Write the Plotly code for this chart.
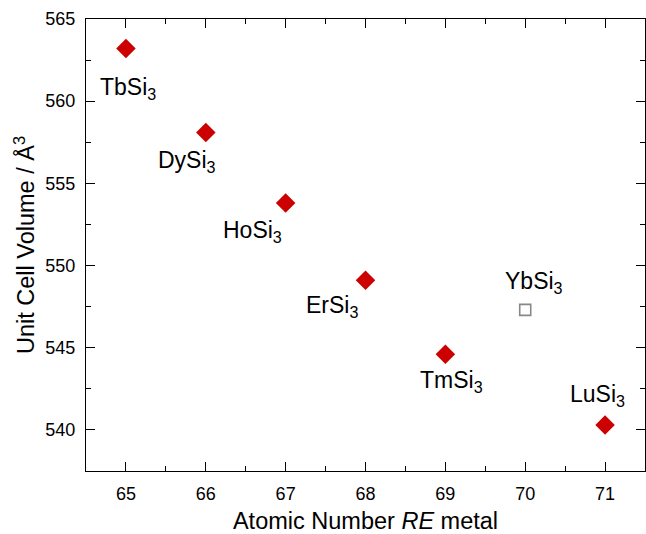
import plotly.graph_objects as go

# Data
atomic_number = [65, 66, 67, 68, 69, 71]
cell_volume = [563.2, 558.1, 553.8, 549.1, 544.6, 540.3]
yb_atomic_number = [70]
yb_cell_volume = [547.3]

label_text = ["TbSi<sub>3</sub>", "DySi<sub>3</sub>", "HoSi<sub>3</sub>", "ErSi<sub>3</sub>",
              "TmSi<sub>3</sub>", "YbSi<sub>3</sub>", "LuSi<sub>3</sub>"]
label_x = [65.02, 65.76, 66.58, 67.58, 69.08, 70.11, 70.9]
label_y = [560.75, 556.36, 552.1, 547.48, 542.92, 548.94, 542.1]

x_ticks = [65, 66, 67, 68, 69, 70, 71]
y_ticks = [540, 545, 550, 555, 560, 565]

font_family = "Liberation Sans, Arial, sans-serif"

fig = go.Figure()
fig.add_trace(go.Scatter(
    x=atomic_number, y=cell_volume, mode="markers",
    marker=dict(symbol="diamond", size=15, color="#cc0000", line=dict(width=0)),
    showlegend=False, hoverinfo="x+y"))
fig.add_trace(go.Scatter(
    x=yb_atomic_number, y=yb_cell_volume, mode="markers",
    marker=dict(symbol="square-open", size=11, color="#888888", line=dict(width=1.6, color="#888888")),
    showlegend=False, hoverinfo="x+y"))

for t, lx, ly in zip(label_text, label_x, label_y):
    fig.add_annotation(x=lx, y=ly, xref="x", yref="y", text=t, showarrow=False,
                       font=dict(size=23, color="black", family=font_family))

axis_common = dict(
    showline=True, linecolor="black", linewidth=1.4, mirror="allticks",
    ticks="inside", ticklen=9, tickwidth=1.4, tickcolor="black",
    showgrid=False, zeroline=False,
    tickfont=dict(size=18, color="black", family=font_family),
)

fig.update_xaxes(
    range=[64.5, 71.5], tickvals=x_ticks,
    minor=dict(ticks="inside", ticklen=5, tickwidth=1.4, tickcolor="black", dtick=0.5, showgrid=False),
    title=dict(text="Atomic Number <i>RE</i> metal", font=dict(size=23.5, color="black", family=font_family), standoff=10),
    ticklabelstandoff=6,
    **axis_common)
fig.update_yaxes(
    range=[537.5, 565], tickvals=y_ticks,
    minor=dict(ticks="inside", ticklen=5, tickwidth=1.4, tickcolor="black", dtick=2.5, showgrid=False),
    title=dict(text="Unit Cell Volume / Å<sup>3</sup>", font=dict(size=23.5, color="black", family=font_family), standoff=3),
    ticklabelstandoff=6,
    **axis_common)

fig.update_layout(
    width=646, height=534,
    margin=dict(l=86, r=1, t=19, b=63, autoexpand=False),
    plot_bgcolor="white", paper_bgcolor="white",
    font=dict(family=font_family, color="black"),
)

fig.write_html("out.html")
